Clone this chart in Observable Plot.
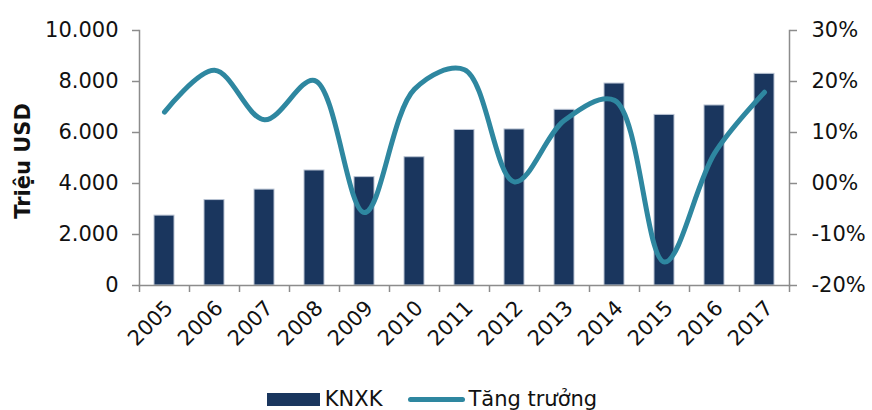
<!DOCTYPE html>
<html>
<head>
<meta charset="utf-8">
<script src="https://cdn.jsdelivr.net/npm/d3@7"></script>
<script src="https://cdn.jsdelivr.net/npm/@observablehq/plot@0.6"></script>
<style>
  body { margin: 0; background: #fff; font-family: "DejaVu Sans", sans-serif; }
  #legend { display: flex; justify-content: center; align-items: center; height: 30px; padding-top: 4px; font-size: 21px; color: #111; margin-left: -8px; }
  .item { display: flex; align-items: center; }
  .sw-bar { width: 53px; height: 13px; background: #1a365e; margin-right: 5px; }
  .sw-line { width: 57px; height: 5px; border-radius: 3px; background: #2e87a0; margin-right: 3px; }
</style>
</head>
<body>
<div id="chart"></div>
<div id="legend">
  <div class="item"><div class="sw-bar"></div><span>KNXK</span></div>
  <div class="item" style="margin-left:26px"><div class="sw-line"></div><span>Tăng trưởng</span></div>
</div>
<script>
const years = ["2005","2006","2007","2008","2009","2010","2011","2012","2013","2014","2015","2016","2017"];
const knxk = [2740, 3350, 3760, 4510, 4250, 5030, 6100, 6120, 6890, 7920, 6690, 7060, 8300];
const growth = [14.0, 22.2, 12.5, 20.2, -5.7, 18.5, 22.3, 0.3, 12.4, 16.3, -15.4, 5.9, 17.9];
const leftTicks = [0, 2000, 4000, 6000, 8000, 10000];
const rightTicks = [-20, -10, 0, 10, 20, 30];

const toY = p => (p + 20) / 50 * 10000;
const fromY = v => Math.round(v / 10000 * 50 - 20);

const rows = years.map((y, i) => ({year: y, knxk: knxk[i], growth: growth[i]}));
const axisColor = "#8c8c8c";

const chart = Plot.plot({
  width: 872,
  height: 380,
  marginLeft: 139,
  marginRight: 83,
  marginTop: 30,
  marginBottom: 95,
  style: {fontFamily: "DejaVu Sans", fontSize: "21px", color: "#111", background: "#fff"},
  x: {domain: years, paddingInner: 0.6, paddingOuter: 0.3},
  y: {domain: [0, 10000]},
  marks: [
    Plot.barY(rows, {x: "year", y: "knxk", fill: "#1a365e", stroke: "#b9c3d3", strokeWidth: 1}),
    Plot.line(rows, {x: "year", y: d => toY(d.growth), stroke: "#2e87a0", strokeWidth: 5, curve: "catmull-rom", strokeLinecap: "round"}),
    Plot.frame({anchor: "left", stroke: axisColor, strokeWidth: 1.5}),
    Plot.frame({anchor: "right", stroke: axisColor, strokeWidth: 1.5}),
    Plot.frame({anchor: "bottom", stroke: axisColor, strokeWidth: 1.5}),
    Plot.axisY({ticks: leftTicks, tickSize: 7, tickPadding: 14, stroke: axisColor, strokeWidth: 1.5,
      tickFormat: d => d3.format(",")(d).replace(/,/g, "."), label: null, fill: "#111"}),
    Plot.axisY({anchor: "right", ticks: rightTicks.map(toY), tickSize: 7, tickPadding: 15, stroke: axisColor, strokeWidth: 1.5,
      tickFormat: v => { const p = fromY(v); return (p === 0 ? "00" : String(p)) + "%"; }, label: null, fill: "#111"}),
    Plot.axisX({tickSize: 7, tickFormat: null, dx: -25, stroke: axisColor, strokeWidth: 1.5, label: null}),
    Plot.axisX({ticks: ["2017"], tickSize: 7, tickFormat: null, dx: 25, stroke: axisColor, strokeWidth: 1.5, label: null}),
    Plot.axisX({tickSize: 0, tickRotate: -45, tickPadding: 19, dx: 5, label: null, fill: "#111"}),
    Plot.text(["Triệu USD"], {frameAnchor: "left", text: d => d, rotate: -90, dx: -116, dy: 3, textAnchor: "middle", fontWeight: "bold", fontSize: 21, fill: "#111"})
  ]
});
document.getElementById("chart").appendChild(chart);
</script>
</body>
</html>
